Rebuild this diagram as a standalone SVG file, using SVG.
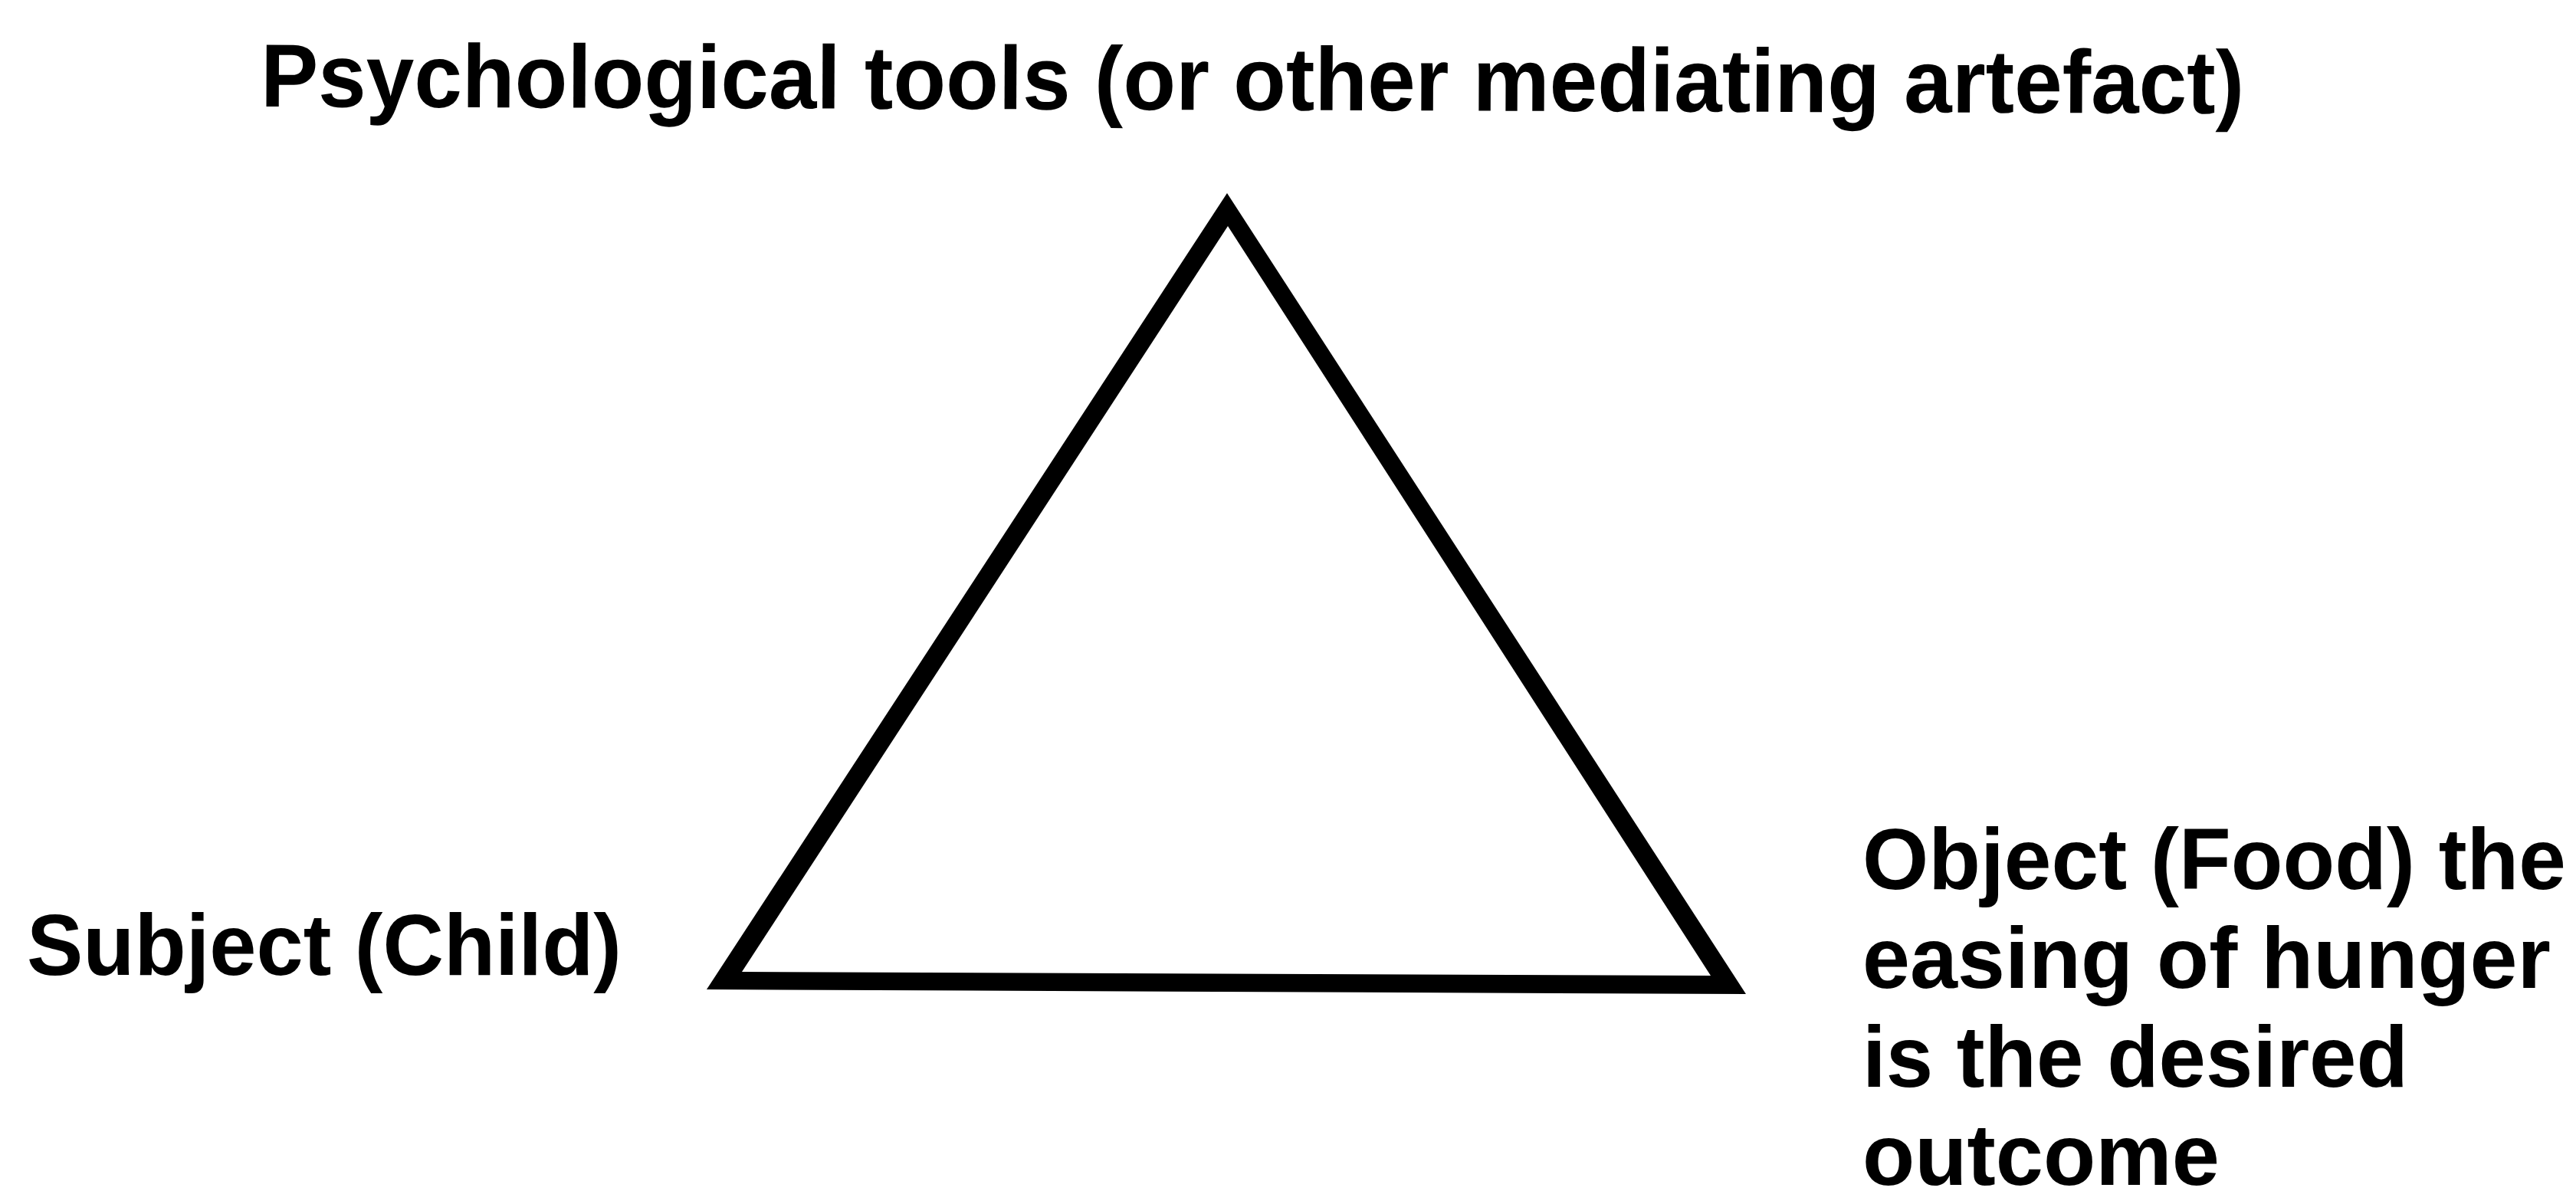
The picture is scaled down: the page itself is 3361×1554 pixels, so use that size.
<svg xmlns="http://www.w3.org/2000/svg" width="3361" height="1554" viewBox="0 0 3361 1554">
<style>
.lbl{font-family:"Liberation Sans",Arial,sans-serif;font-weight:bold;fill:#000;}
.t{font-size:117px;}
.s{font-size:114px;}
</style>
<rect x="0" y="0" width="3361" height="1554" fill="#fff"/>
<g id="connectors">
<path d="M1601,252 L2278,1297 L922,1291 Z M1602,295 L968,1268 L2232,1273 Z" fill="#000" fill-rule="evenodd"/>
</g>
<g id="node-tools">
<text class="lbl t" x="340" y="139" textLength="2588" lengthAdjust="spacingAndGlyphs" transform="rotate(0.2 340 139)">Psychological tools (or other mediating artefact)</text>
</g>
<g id="node-subject">
<text class="lbl s" x="35" y="1272" textLength="776" lengthAdjust="spacingAndGlyphs">Subject (Child)</text>
</g>
<g id="node-object">
<text class="lbl s" x="2430" y="1160" textLength="918" lengthAdjust="spacingAndGlyphs">Object (Food) the</text>
<text class="lbl s" x="2430" y="1289" textLength="898" lengthAdjust="spacingAndGlyphs">easing of hunger</text>
<text class="lbl s" x="2430" y="1418" textLength="712" lengthAdjust="spacingAndGlyphs">is the desired</text>
<text class="lbl s" x="2430" y="1546" textLength="466" lengthAdjust="spacingAndGlyphs">outcome</text>
</g>
</svg>
